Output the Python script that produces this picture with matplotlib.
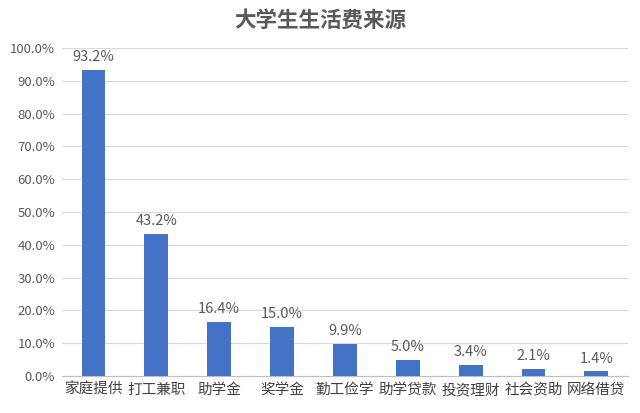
import numpy as np
import matplotlib
matplotlib.use("Agg")
import matplotlib.pyplot as plt

plt.rcParams['font.family'] = ['Noto Sans CJK SC', 'DejaVu Sans']

categories = ['家庭提供', '打工兼职', '助学金', '奖学金', '勤工俭学',
              '助学贷款', '投资理财', '社会资助', '网络借贷']
values = [93.2, 43.2, 16.4, 15.0, 9.9, 5.0, 3.4, 2.1, 1.4]
yticks = np.arange(0, 101, 10)

fig = plt.figure(figsize=(6.4, 4.13), dpi=100)
ax = fig.add_axes([0.097, 0.0896, 0.884, 0.794])

x = np.arange(len(categories))
ax.bar(x, values, width=0.38, color='#4472C4', zorder=3)
for xi, v in zip(x, values):
    ax.text(xi, v + 1.8, f'{v:.1f}%', ha='center', va='bottom',
            fontsize=10.5, color='#595959')

ax.set_xlim(-0.5, len(categories) - 0.5)
ax.set_ylim(0, 100)
ax.set_yticks(yticks)
ax.set_yticklabels([f'{t:.1f}%' for t in yticks], fontsize=9.5, color='#595959')
ax.set_xticks(x)
ax.set_xticklabels(categories, fontsize=10.5, color='#404040')
ax.tick_params(length=0, pad=5)
ax.grid(axis='y', color='#D9D9D9', linewidth=0.8, zorder=0)
for s in ['top', 'right', 'left']:
    ax.spines[s].set_visible(False)
ax.spines['bottom'].set_color('#BFBFBF')

fig.text(0.5, 0.952, '大学生生活费来源', ha='center', va='center',
         fontsize=15.5, fontweight='bold', color='#595959')

fig.savefig('out.png', dpi=100)
